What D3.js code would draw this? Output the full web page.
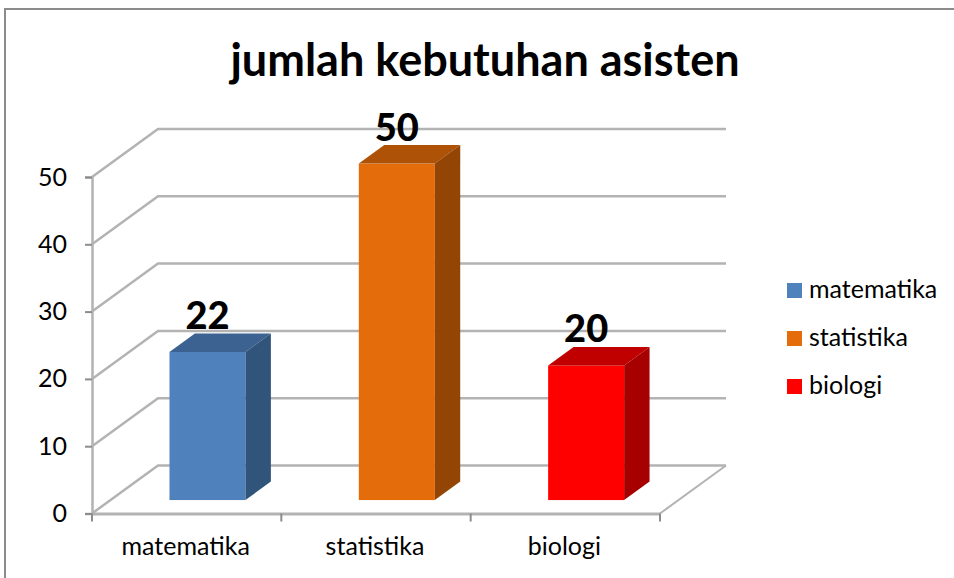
<!DOCTYPE html>
<html>
<head>
<meta charset="utf-8">
<script src="https://cdn.jsdelivr.net/npm/d3@7"></script>
<style>
  html, body { margin: 0; padding: 0; background: #fff; }
  svg { display: block; }
  text { font-family: Lato, "Open Sans", sans-serif; fill: #000; }
  .axis text { font-size: 25px; }
</style>
</head>
<body>
<div id="viz"></div>
<script>
const categories = ['matematika', 'statistika', 'biologi'];
const values = [22, 50, 20];
const colors = ['#4f81bd', '#e46c0a', '#ff0000'];
const sideColors = ['#31547b', '#924504', '#a60000'];
const topColors = ['#3b6291', '#ad5207', '#c00000'];
const yTicks = [0, 10, 20, 30, 40, 50];

const width = 954;
const height = 578;
const plot = { left: 92, right: 660, top: 177, bottom: 513.5 };
const depth = { dx: 66, dy: -48 };
const barDepth = { from: 0.28, to: 0.665 };
const gridColor = '#b3b3b3';

const svg = d3.select('#viz')
    .append('svg')
        .attr('width', width)
        .attr('height', height);

svg.append('path')
    .attr('d', 'M5,578V9H954')
    .attr('fill', 'none')
    .attr('stroke', '#8c8c8c')
    .attr('stroke-width', 2);

let xScale = d3.scaleBand()
    .domain(categories)
    .range([plot.left, plot.right]);

let yScale = d3.scaleLinear()
    .domain([0, 50])
    .range([plot.bottom, plot.top]);

// gridlines: side wall and back wall
const grid = svg.append('g')
    .attr('fill', 'none')
    .attr('stroke', gridColor)
    .attr('stroke-width', 2.5);

grid.selectAll('path')
    .data(yTicks)
    .join('path')
        .attr('d', d => {
            const y = yScale(d);
            return `M${plot.left},${y}L${plot.left + depth.dx},${y + depth.dy}H${plot.right + depth.dx}`;
        });

// floor edge on the right
grid.append('path')
    .attr('d', `M${plot.right},${plot.bottom}L${plot.right + depth.dx},${plot.bottom + depth.dy}`)
    .attr('stroke-width', 2);

// axes
const yAxis = svg.append('g')
    .attr('class', 'axis')
    .attr('transform', `translate(${plot.left}, 0)`)
    .call(d3.axisLeft(yScale).tickValues(yTicks).tickSize(7).tickPadding(18));

const xAxis = svg.append('g')
    .attr('class', 'axis')
    .attr('transform', `translate(0, ${plot.bottom})`)
    .call(d3.axisBottom(xScale).tickSize(0).tickPadding(24));

xAxis.selectAll('.edge')
    .data(xScale.domain().map(d => xScale(d)).concat([plot.right]))
    .join('line')
        .attr('class', 'edge')
        .attr('x1', d => d)
        .attr('x2', d => d)
        .attr('y1', 0)
        .attr('y2', 8)
        .attr('stroke', '#8c8c8c')
        .attr('stroke-width', 2);

yAxis.select('.domain').attr('stroke', gridColor).attr('stroke-width', 2.5);
yAxis.selectAll('.tick line').attr('stroke', '#8c8c8c').attr('stroke-width', 2);
xAxis.select('.domain').attr('stroke', gridColor).attr('stroke-width', 3);
xAxis.selectAll('.tick text').attr('dx', -1);

// bars, front face + top + side
const barWidth = 76;
const barX = c => xScale(c) + 59;

const bars = svg.selectAll('.bar')
    .data(categories.map((c, i) => ({ c, v: values[i], i })))
    .join('g')
        .attr('class', 'bar');

const frontX = d => barX(d.c) + depth.dx * barDepth.from;
const frontY = v => yScale(v) + depth.dy * barDepth.from;
const off = { x: depth.dx * (barDepth.to - barDepth.from), y: depth.dy * (barDepth.to - barDepth.from) };

bars.append('rect')
    .attr('x', frontX)
    .attr('y', d => frontY(d.v))
    .attr('width', barWidth)
    .attr('height', d => frontY(0) - frontY(d.v))
    .attr('fill', d => colors[d.i]);

bars.append('path')
    .attr('fill', d => topColors[d.i])
    .attr('d', d => {
        const x = frontX(d), y = frontY(d.v);
        return `M${x},${y}l${off.x},${off.y}h${barWidth}l${-off.x},${-off.y}Z`;
    });

bars.append('path')
    .attr('fill', d => sideColors[d.i])
    .attr('d', d => {
        const x = frontX(d) + barWidth, y = frontY(d.v);
        return `M${x},${y}l${off.x},${off.y}V${frontY(0) + off.y}l${-off.x},${-off.y}Z`;
    });

bars.append('text')
    .attr('x', d => frontX(d) + barWidth / 2)
    .attr('y', d => frontY(d.v) - 23)
    .attr('text-anchor', 'middle')
    .attr('font-size', 38)
    .attr('font-weight', 900)
    .text(d => d.v);

// title
svg.append('text')
    .attr('x', 485)
    .attr('y', 76)
    .attr('text-anchor', 'middle')
    .attr('font-size', 45)
    .attr('font-weight', 700)
    .text('jumlah kebutuhan asisten');

// legend
let legendY = d3.scalePoint()
    .domain(categories)
    .range([290.5, 386.5]);

const legend = svg.selectAll('.legend')
    .data(categories)
    .join('g')
        .attr('class', 'legend')
        .attr('transform', d => `translate(787, ${legendY(d)})`);

legend.append('rect')
    .attr('y', -7.5)
    .attr('width', 15)
    .attr('height', 15)
    .attr('fill', (d, i) => colors[i]);

legend.append('text')
    .attr('x', 22)
    .attr('y', 7.5)
    .attr('font-size', 25)
    .text(d => d);
</script>
</body>
</html>
